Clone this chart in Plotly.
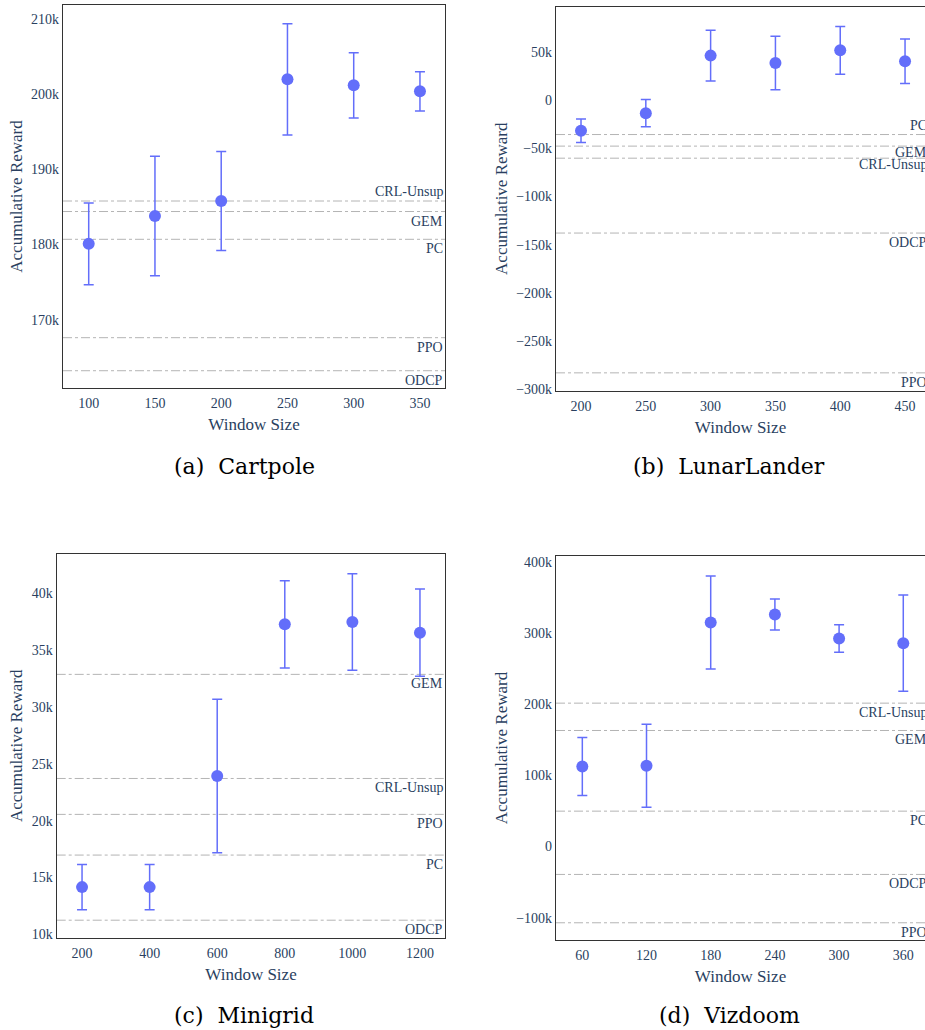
import plotly.graph_objects as go

W, H = 925, 1030

# ---------------- data ----------------
cart_x = [100, 150, 200, 250, 300, 350]
cart_y = [180100, 183800, 185800, 202000, 201200, 200400]
cart_err = [5450, 7950, 6600, 7400, 4350, 2600]
cart_base_names = ["CRL-Unsup", "GEM", "PC", "PPO", "ODCP"]
cart_base_vals = [185800, 184400, 180700, 167600, 163200]
cart_base_pos = ["top", "bottom", "bottom", "bottom", "bottom"]

lunar_x = [200, 250, 300, 350, 400, 450]
lunar_y = [-32000, -13800, 45900, 38300, 51400, 40000]
lunar_err = [12100, 14100, 26400, 27800, 24700, 23100]
lunar_base_names = ["PC", "GEM", "CRL-Unsup", "ODCP", "PPO"]
lunar_base_vals = [-35900, -47900, -60400, -138000, -282900]
lunar_base_pos = ["top", "bottom", "bottom", "bottom", "bottom"]

mini_x = [200, 400, 600, 800, 1000, 1200]
mini_y = [14150, 14150, 23920, 37270, 37480, 36540]
mini_err = [1980, 1980, 6750, 3830, 4250, 3830]
mini_base_names = ["GEM", "CRL-Unsup", "PPO", "PC", "ODCP"]
mini_base_vals = [32870, 23710, 20550, 16970, 11240]
mini_base_pos = ["bottom", "bottom", "bottom", "bottom", "bottom"]

viz_x = [60, 120, 180, 240, 300, 360]
viz_y = [112400, 113300, 314600, 325800, 292100, 285600]
viz_err = [40700, 58300, 65300, 21800, 19400, 67600]
viz_base_names = ["CRL-Unsup", "GEM", "PC", "ODCP", "PPO"]
viz_base_vals = [201300, 162900, 49600, -39300, -107200]
viz_base_pos = ["bottom", "bottom", "bottom", "bottom", "bottom"]

captions = ["(a)\u00a0 Cartpole", "(b)\u00a0 LunarLander", "(c)\u00a0 Minigrid", "(d)\u00a0 Vizdoom"]

# ---------------- layout helpers ----------------
def px_x(v):
    return v / W

def px_y(v):
    return 1 - v / H

BLUE = "#636efa"
TXT = "#2a3f5f"
FONT = "Liberation Serif, Times New Roman, serif"

panels = [
    dict(x=cart_x, y=cart_y, err=cart_err, names=cart_base_names, vals=cart_base_vals, pos=cart_base_pos,
         dom_x=(63, 445), dom_y=(5, 388), xr=(80.6, 368.9), yr=(160900, 211900),
         xt=cart_x, yt=[170000, 180000, 190000, 200000, 210000], right=445, mirror_y=True,
         cap=(244, 466), shift={}),
    dict(x=lunar_x, y=lunar_y, err=lunar_err, names=lunar_base_names, vals=lunar_base_vals, pos=lunar_base_pos,
         dom_x=(556, 925), dom_y=(6.7, 390.7), xr=(180.7, 465.4), yr=(-301400, 96600),
         xt=lunar_x, yt=[-300000, -250000, -200000, -150000, -100000, -50000, 0, 50000], right=929, mirror_y=False,
         cap=(729, 466), shift={"GEM": 3, "CRL-Unsup": 3}),
    dict(x=mini_x, y=mini_y, err=mini_err, names=mini_base_names, vals=mini_base_vals, pos=mini_base_pos,
         dom_x=(56.7, 445.3), dom_y=(554, 937.7), xr=(125, 1275), yr=(9700, 43460),
         xt=mini_x, yt=[10000, 15000, 20000, 25000, 30000, 35000, 40000], right=445, mirror_y=True,
         cap=(244, 1015), shift={}),
    dict(x=viz_x, y=viz_y, err=viz_err, names=viz_base_names, vals=viz_base_vals, pos=viz_base_pos,
         dom_x=(556, 925), dom_y=(556, 940), xr=(35.4, 380.3), yr=(-131400, 408000),
         xt=viz_x, yt=[-100000, 0, 100000, 200000, 300000, 400000], right=929, mirror_y=False,
         cap=(729, 1015), shift={}),
]

fig = go.Figure()
layout = dict(
    width=W, height=H,
    margin=dict(l=0, r=0, t=0, b=0),
    paper_bgcolor="white", plot_bgcolor="white",
    showlegend=False,
    font=dict(family=FONT, size=14, color=TXT),
)
annotations = []
shapes = []

for i, p in enumerate(panels, start=1):
    xa = "x" if i == 1 else f"x{i}"
    ya = "y" if i == 1 else f"y{i}"
    fig.add_trace(go.Scatter(
        x=p["x"], y=p["y"], mode="markers",
        marker=dict(color=BLUE, size=12),
        error_y=dict(type="data", array=p["err"], visible=True, color=BLUE, thickness=1.5, width=5),
        xaxis=xa, yaxis=ya,
    ))
    layout[f"xaxis{'' if i == 1 else i}"] = dict(
        domain=[px_x(p["dom_x"][0]), px_x(p["dom_x"][1])],
        range=list(p["xr"]), anchor=ya, tickmode="array", tickvals=p["xt"],
        showgrid=False, zeroline=False, showline=True, mirror=True,
        linecolor="#333", linewidth=1.3, ticks="", ticklabelstandoff=2,
        tickfont=dict(family=FONT, size=14, color=TXT),
        title=dict(text="Window Size", font=dict(family=FONT, size=17, color=TXT), standoff=8),
        automargin=False,
    )
    layout[f"yaxis{'' if i == 1 else i}"] = dict(
        domain=[px_y(p["dom_y"][1]), px_y(p["dom_y"][0])],
        range=list(p["yr"]), anchor=xa, tickmode="array", tickvals=p["yt"],
        showgrid=False, zeroline=False, showline=True, mirror=p["mirror_y"],
        linecolor="#333", linewidth=1.3, ticks="",
        tickfont=dict(family=FONT, size=14, color=TXT),
        title=dict(text="Accumulative Reward", font=dict(family=FONT, size=17, color=TXT), standoff=4),
        automargin=False,
    )
    for name, val, pos in zip(p["names"], p["vals"], p["pos"]):
        shapes.append(dict(
            type="line", xref=f"{xa} domain", yref=ya, x0=0, x1=1, y0=val, y1=val,
            line=dict(color="#b4b4b4", width=1, dash="dashdot"), layer="below",
        ))
        annotations.append(dict(
            text=name, xref="paper", yref=ya, x=px_x(p["right"]), y=val,
            xanchor="right", yanchor="bottom" if pos == "top" else "top",
            yshift=p["shift"].get(name, 0),
            showarrow=False, font=dict(family=FONT, size=14, color=TXT),
        ))
    annotations.append(dict(
        text=captions[i - 1], xref="paper", yref="paper",
        x=px_x(p["cap"][0]), y=px_y(p["cap"][1]), xanchor="center", yanchor="middle",
        showarrow=False, font=dict(family="DejaVu Serif", size=22, color="black"),
    ))

layout["annotations"] = annotations
layout["shapes"] = shapes
fig.update_layout(**layout)
fig.write_html("out.html")
